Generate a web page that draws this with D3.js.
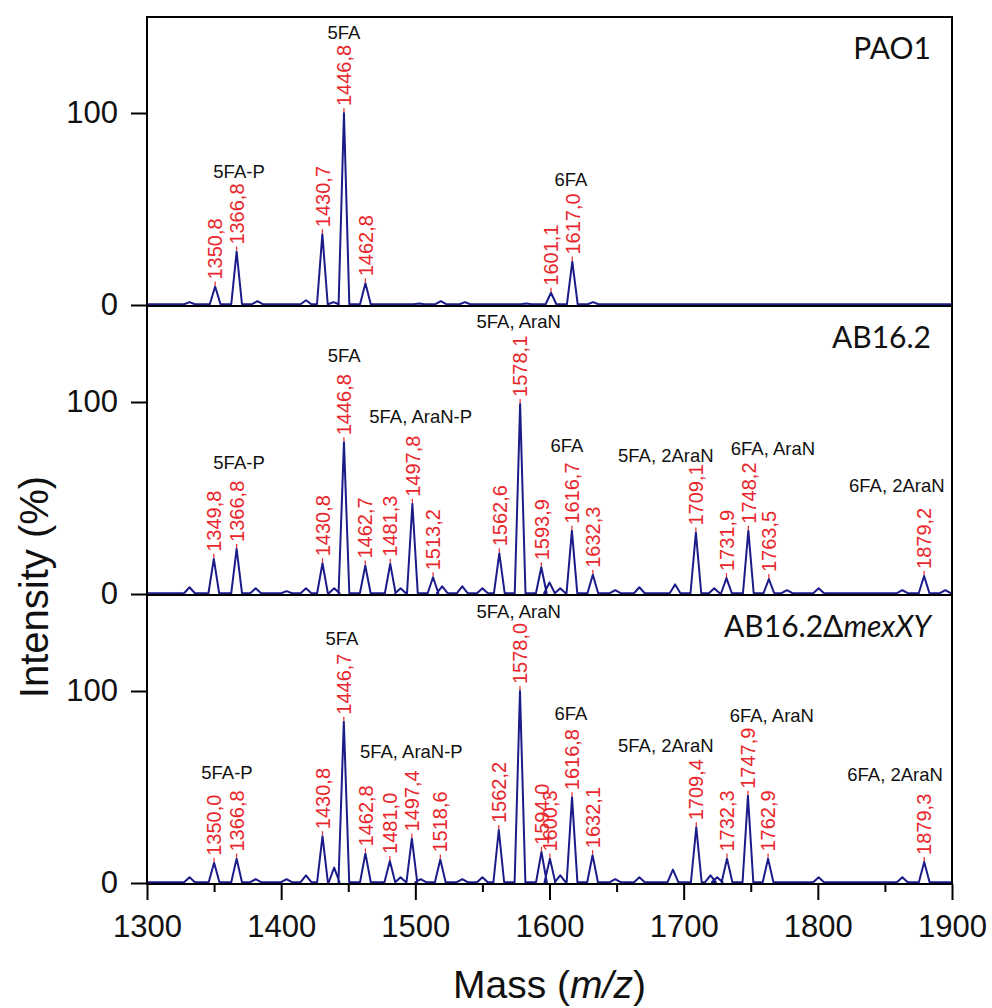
<!DOCTYPE html>
<html>
<head>
<meta charset="utf-8">
<script src="https://cdn.jsdelivr.net/npm/d3@7"></script>
<style>
  html, body { margin: 0; padding: 0; background: #fff; }
  svg { display: block; }
</style>
</head>
<body>
<svg id="chart" width="992" height="1008"></svg>
<script>
// ---------------- DATA ----------------
const xDomain = [1300, 1900];
const xTicks = [1300, 1400, 1500, 1600, 1700, 1800, 1900];
const xMinorTicks = [1350, 1450, 1550, 1650, 1750, 1850];
const yDomain = [0, 150];
const yTicks = [0, 100];

const panelNames = ["PAO1", "AB16.2", "AB16.2Δ"];
const panelItalic = ["", "", "mexXY"];

// labelled peaks [m/z, intensity %]
const pao1Peaks = [[1350.8, 9.6], [1366.8, 27.8], [1430.7, 36.9], [1446.8, 100], [1462.8, 11.3], [1601.1, 6.4], [1617.0, 22.6]];
const ab162Peaks = [[1349.8, 18.3], [1366.8, 23.5], [1430.8, 16], [1446.8, 79], [1462.7, 14.8], [1481.3, 15.7], [1497.8, 47], [1513.2, 8.7], [1562.6, 21.2], [1578.1, 99], [1593.9, 13.9], [1616.7, 33], [1632.3, 10], [1709.1, 32], [1731.9, 8.3], [1748.2, 33], [1763.5, 7.8], [1879.2, 9.4]];
const mexPeaks = [[1350.0, 10.5], [1366.8, 12.7], [1430.8, 24.4], [1446.7, 84], [1462.8, 15.4], [1481.0, 11.5], [1497.4, 23.2], [1518.6, 12.2], [1562.2, 27.6], [1578.0, 100], [1594.0, 16.2], [1600.3, 12.7], [1616.8, 44.7], [1632.1, 14.5], [1709.4, 29], [1732.3, 12.7], [1747.9, 45.4], [1762.9, 12.7], [1879.3, 11]];

// unlabelled small peaks [m/z, intensity %]
const pao1Minor = [[1331.7, 1.5], [1382.3, 2], [1418.5, 2.5], [1439, 1.5], [1502.8, 0.8], [1519, 2], [1537, 1.5], [1582.7, 0.8], [1632.5, 1.5]];
const ab162Minor = [[1331.7, 3.5], [1381, 3], [1404, 1.5], [1418.5, 3], [1439.5, 3], [1489, 3], [1520, 4], [1535, 4], [1550, 3], [1600, 6], [1608, 3], [1649, 2], [1667, 3.5], [1693.6, 5], [1722.8, 3], [1777, 2], [1800.6, 3], [1863, 2], [1895, 2]];
const mexMinor = [[1331.7, 3], [1381, 2], [1404, 2], [1418.5, 4], [1439.5, 8], [1489, 3], [1504, 2], [1535, 2], [1550, 3], [1608, 4], [1649, 2], [1667, 3], [1692, 7], [1720, 4], [1725, 3], [1800.6, 3], [1863, 3]];

// group annotations [text, m/z, intensity]
const pao1Notes = [["5FA-P", 1368.6, 66], ["5FA", 1446.8, 138.4], ["6FA", 1616, 62]];
const ab162Notes = [["5FA, AraN", 1577, 138.4], ["5FA", 1447, 121], ["5FA, AraN-P", 1504, 89], ["5FA-P", 1368.6, 65], ["6FA", 1613, 74], ["5FA, 2AraN", 1686.7, 69], ["6FA, AraN", 1766.5, 72.5], ["6FA, 2AraN", 1858.9, 53]];
const mexNotes = [["5FA, AraN", 1577, 138], ["5FA", 1445.3, 124], ["5FA, AraN-P", 1497, 65], ["5FA-P", 1359.6, 54.4], ["6FA", 1616, 85], ["5FA, 2AraN", 1686.7, 68.4], ["6FA, AraN", 1765.7, 84], ["6FA, 2AraN", 1857.6, 53]];

const xTitle = "Mass (";
const xTitleItalic = "m/z";
const yTitle = "Intensity (%)";

// ---------------- LAYOUT ----------------
const svg = d3.select("#chart");
const plotL = 147, plotR = 952, plotT = 17, panelH = 289;
const lineColor = "#1b1b8a", red = "#e8262b";
const sans = "'Liberation Sans', Arial, sans-serif";

const x = d3.scaleLinear().domain(xDomain).range([plotL, plotR]);

const panels = [
  { name: panelNames[0], ital: panelItalic[0], peaks: pao1Peaks, minor: pao1Minor, notes: pao1Notes },
  { name: panelNames[1], ital: panelItalic[1], peaks: ab162Peaks, minor: ab162Minor, notes: ab162Notes },
  { name: panelNames[2], ital: panelItalic[2], peaks: mexPeaks, minor: mexMinor, notes: mexNotes }
];

const fmt = v => d3.format(".1f")(v).replace(".", ",");
const halfW = 4; // peak half-width in m/z units (drawing style)

panels.forEach((p, i) => {
  const y0 = plotT + i * panelH;
  const y = d3.scaleLinear().domain(yDomain).range([y0 + panelH - 1, y0]);
  const g = svg.append("g");

  // spectrum
  const all = p.peaks.concat(p.minor).sort((a, b) => a[0] - b[0]);
  const pts = [[xDomain[0], 0.4]];
  all.forEach(([m, h]) => { pts.push([m - halfW, 0.4], [m, h], [m + halfW, 0.4]); });
  pts.push([xDomain[1], 0.4]);
  const line = d3.line().x(d => x(d[0])).y(d => y(d[1]));
  g.append("path").attr("d", line(pts)).attr("fill", "none")
    .attr("stroke", lineColor).attr("stroke-width", 2).attr("stroke-linejoin", "round");

  // red labels
  p.peaks.forEach(([m, h]) => {
    g.append("line").attr("x1", x(m)).attr("x2", x(m)).attr("y1", y(h) - 1).attr("y2", y(h) - 5)
      .attr("stroke", red).attr("stroke-width", 1.2);
    g.append("text")
      .attr("transform", `translate(${x(m)},${y(h) - 7}) rotate(-90)`)
      .attr("dy", "0.36em")
      .attr("font-family", sans).attr("font-size", 20).attr("fill", red)
      .text(fmt(m));
  });

  // group annotations
  p.notes.forEach(([t, m, v]) => {
    g.append("text").attr("x", x(m)).attr("y", y(v)).attr("text-anchor", "middle")
      .attr("font-family", sans).attr("font-size", 18.5).attr("fill", "#111")
      .text(t);
  });

  // panel name
  const nt = g.append("text").attr("x", 931).attr("y", y(128)).attr("text-anchor", "end")
    .attr("font-family", "Lato, 'Open Sans', sans-serif").attr("font-size", 30).attr("fill", "#111");
  nt.append("tspan").text(p.name);
  if (p.ital) nt.append("tspan").attr("font-style", "italic").text(p.ital);

  // frame
  g.append("rect").attr("x", plotL).attr("y", y0).attr("width", plotR - plotL).attr("height", panelH)
    .attr("fill", "none").attr("stroke", "#000").attr("stroke-width", 2);

  // y axis
  const ya = g.append("g").attr("transform", `translate(${plotL},0)`)
    .call(d3.axisLeft(y).tickValues(yTicks).tickSize(16).tickPadding(13).tickFormat(d3.format("d")));
  ya.select(".domain").remove();
  ya.selectAll("line").attr("stroke", "#000").attr("stroke-width", 2);
  ya.selectAll("text").attr("font-family", sans).attr("font-size", 31).attr("fill", "#111");
});

// x axis
const plotB = plotT + 3 * panelH;
const xa = svg.append("g").attr("transform", `translate(0,${plotB})`)
  .call(d3.axisBottom(x).tickValues(xTicks).tickSize(16).tickPadding(15).tickFormat(d3.format("d")));
xa.select(".domain").remove();
xa.selectAll("line").attr("stroke", "#000").attr("stroke-width", 2);
xa.selectAll("text").attr("font-family", sans).attr("font-size", 31).attr("fill", "#111");
const xm = svg.append("g").attr("transform", `translate(0,${plotB})`)
  .call(d3.axisBottom(x).tickValues(xMinorTicks).tickSize(8).tickFormat(""));
xm.select(".domain").remove();
xm.selectAll("line").attr("stroke", "#000").attr("stroke-width", 2);

// axis titles
const xt = svg.append("text").attr("x", (plotL + plotR) / 2).attr("y", 998).attr("text-anchor", "middle")
  .attr("font-family", sans).attr("font-size", 39).attr("fill", "#111");
xt.append("tspan").text(xTitle);
xt.append("tspan").attr("font-style", "italic").text(xTitleItalic);
xt.append("tspan").text(")");

svg.append("text").attr("transform", `translate(48,587) rotate(-90)`)
  .attr("text-anchor", "middle").attr("font-family", sans).attr("font-size", 40).attr("fill", "#111")
  .text(yTitle);
</script>
</body>
</html>
